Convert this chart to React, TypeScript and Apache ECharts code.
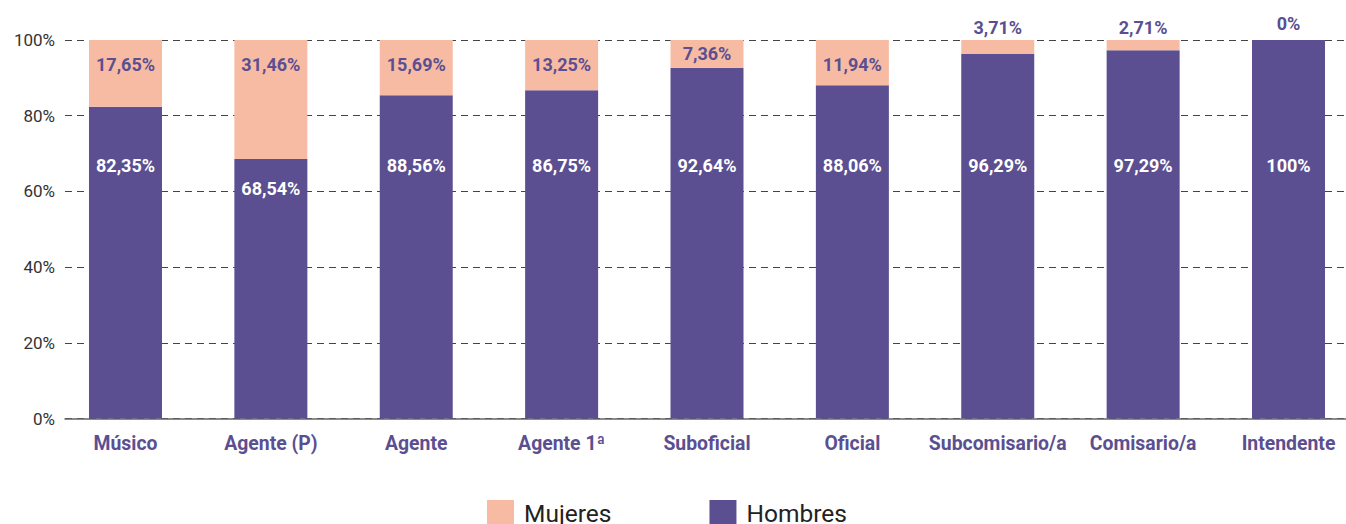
import React, { useEffect, useRef } from "react";
import * as echarts from "echarts";

const categories = ["Músico", "Agente (P)", "Agente", "Agente 1ª", "Suboficial", "Oficial", "Subcomisario/a", "Comisario/a", "Intendente"];
// percentages printed on the chart
const mujeresPct = [17.65, 31.46, 15.69, 13.25, 7.36, 11.94, 3.71, 2.71, 0];
const hombresPct = [82.35, 68.54, 88.56, 86.75, 92.64, 88.06, 96.29, 97.29, 100];
// bar heights as drawn in the picture (Hombres segment; Mujeres fills to 100)
const hombresBar = [82.35, 68.54, 85.4, 86.75, 92.64, 88.06, 96.29, 97.29, 100];
const mujeresBar = hombresBar.map((v) => +(100 - v).toFixed(2));
const yTicks = [0, 20, 40, 60, 80, 100];

const PURPLE = "#5B4F91";
const PINK = "#F7BBA4";
const FONT = "Roboto";

const fmt = (v: number) => (Number.isInteger(v) ? `${v}%` : `${v.toFixed(2).replace(".", ",")}%`);

export default function App() {
  const ref = useRef<HTMLDivElement>(null);
  useEffect(() => {
    document.body.style.margin = "0";
    const chart = echarts.init(ref.current!, null, { renderer: "svg" });
    const gridTop = 40;
    const gridH = 378.5;
    const pxPer = gridH / 100;

    const hombresData = hombresBar.map((v, i) => {
      const barTop = (100 - v) * pxPer; // from grid top
      const labelTopPx = 156 - gridTop; // preferred label top
      const dist = Math.max(labelTopPx - barTop, 20);
      return {
        value: v,
        label: { position: "insideTop", distance: dist, formatter: fmt(hombresPct[i]) },
      };
    });
    const mujeresData = mujeresBar.map((v, i) => {
      let label: any;
      if (v >= 10) label = { position: "insideTop", distance: 15 };
      else if (v >= 5) label = { position: "inside" };
      else label = { position: "top", distance: v === 0 ? 8 : 4 };
      return { value: v, label: { ...label, formatter: fmt(mujeresPct[i]) } };
    });

    chart.setOption({
      animation: false,
      textStyle: { fontFamily: FONT },
      grid: [
        { left: 65, width: 1281, top: gridTop, height: gridH },
        { left: 52.8, width: 1308.4, top: gridTop, height: gridH },
      ],
      legend: {
        left: 482,
        top: 495,
        itemWidth: 27,
        itemHeight: 27,
        itemGap: 98,
        icon: "rect",
        textStyle: { fontSize: 24.5, color: "#222", fontFamily: FONT, padding: [0, 0, 0, 5] },
        data: ["Mujeres", "Hombres"],
      },
      xAxis: [
        {
          gridIndex: 0,
          type: "category",
          data: categories,
          axisLine: { show: true, lineStyle: { color: "#666", width: 1.5 } },
          axisTick: { show: false },
          axisLabel: { show: false },
        },
        {
          gridIndex: 1,
          type: "category",
          data: categories,
          axisLine: { show: false },
          axisTick: { show: false },
          axisLabel: { color: PURPLE, fontSize: 19.4, fontWeight: "bold", fontFamily: FONT, margin: 15, interval: 0 },
        },
      ],
      yAxis: [
        {
          gridIndex: 0,
          type: "value",
          min: yTicks[0],
          max: yTicks[yTicks.length - 1],
          interval: yTicks[1] - yTicks[0],
          axisLine: { show: false },
          axisTick: { show: false },
          axisLabel: { formatter: "{value}%", color: "#333", fontSize: 17, fontFamily: FONT, margin: 10 },
          splitLine: { lineStyle: { color: "#444", type: [7, 5], width: 1 } },
        },
        {
          gridIndex: 1,
          type: "value",
          min: 0,
          max: 100,
          show: false,
          splitLine: { show: false },
        },
      ],
      series: [
        {
          name: "Hombres",
          type: "bar",
          stack: "t",
          xAxisIndex: 1,
          yAxisIndex: 1,
          barWidth: 73,
          itemStyle: { color: PURPLE },
          label: { show: true, color: "#fff", fontSize: 18, fontWeight: "bold", fontFamily: FONT },
          data: hombresData,
        },
        {
          name: "Mujeres",
          type: "bar",
          stack: "t",
          xAxisIndex: 1,
          yAxisIndex: 1,
          barWidth: 73,
          itemStyle: { color: PINK },
          label: { show: true, color: PURPLE, fontSize: 18, fontWeight: "bold", fontFamily: FONT },
          data: mujeresData,
        },
      ],
    });
    return () => chart.dispose();
  }, []);
  return (
    <div style={{ width: 1346, height: 524, overflow: "hidden" }}>
      <div ref={ref} style={{ width: 1362, height: 524 }} />
    </div>
  );
}
